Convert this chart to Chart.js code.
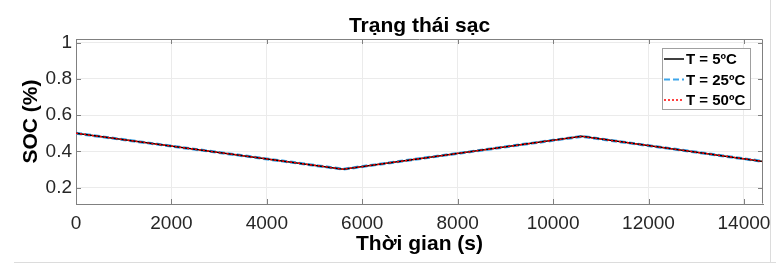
<!DOCTYPE html>
<html>
<head>
<meta charset="utf-8">
<script src="https://cdn.jsdelivr.net/npm/chart.js@4.4.1/dist/chart.umd.min.js"></script>
<style>
  html, body { margin: 0; padding: 0; background: #fff; }
  #wrap { width: 776px; height: 263px; }
</style>
</head>
<body>
<div id="wrap"><canvas id="soc" width="776" height="263"></canvas></div>
<script>
// time (s) and SOC
const timeS = [0, 5600, 10600, 14400];
const soc5 = [0.5, 0.302, 0.483, 0.345];
const soc25 = [0.5, 0.302, 0.483, 0.345];
const soc50 = [0.5, 0.302, 0.483, 0.345];

const seriesNames = ["T = 5ºC", "T = 25ºC", "T = 50ºC"];
const xTicks = [0, 2000, 4000, 6000, 8000, 10000, 12000, 14000];
const yTicks = [0.2, 0.4, 0.6, 0.8, 1];
const chartTitle = "Trạng thái sạc";

const FONT = "'Liberation Sans', Arial, Helvetica, sans-serif";
Chart.defaults.font.family = FONT;

const toPts = (arr) => timeS.map((t, i) => ({ x: t, y: arr[i] }));

// matlab style box, inward ticks, title over the axes and the legend inside
const matlabBox = {
  id: "matlabBox",
  afterDraw(chart) {
    const ctx = chart.ctx;
    const a = chart.chartArea;
    const xs = chart.scales.x, ys = chart.scales.y;
    ctx.save();
    ctx.strokeStyle = "#808080";
    ctx.lineWidth = 1;
    ctx.beginPath();
    ctx.moveTo(a.left + 0.5, a.top + 0.5);
    ctx.lineTo(a.right - 0.5, a.top + 0.5);
    ctx.lineTo(a.right - 0.5, a.bottom - 0.5);
    ctx.stroke();
    // inward ticks
    ctx.beginPath();
    xTicks.forEach(v => {
      const px = Math.round(xs.getPixelForValue(v)) + 0.5;
      ctx.moveTo(px, a.bottom); ctx.lineTo(px, a.bottom - 5);
      ctx.moveTo(px, a.top); ctx.lineTo(px, a.top + 5);
    });
    yTicks.forEach(v => {
      const py = Math.round(ys.getPixelForValue(v)) + 0.5;
      ctx.moveTo(a.left, py); ctx.lineTo(a.left + 5, py);
      ctx.moveTo(a.right, py); ctx.lineTo(a.right - 5, py);
    });
    ctx.stroke();

    // title centred on the axes
    ctx.fillStyle = "#000";
    ctx.font = "bold 21px " + FONT;
    ctx.textAlign = "center";
    ctx.textBaseline = "alphabetic";
    ctx.fillText(chartTitle, (a.left + a.right) / 2, 32);

    // legend
    const lx = 662, ly = 48, lw = 88, lh = 61;
    ctx.fillStyle = "#fff";
    ctx.fillRect(lx, ly, lw, lh);
    ctx.strokeStyle = "#a0a0a0";
    ctx.lineWidth = 1;
    ctx.strokeRect(lx + 0.5, ly + 0.5, lw, lh);
    seriesNames.forEach((name, i) => {
      const ds = chart.data.datasets.find(d => d.label === name);
      const cy = ly + 11 + i * 20.5;
      ctx.strokeStyle = ds.borderColor;
      ctx.lineWidth = Math.min(ds.borderWidth, 2);
      ctx.setLineDash(ds.borderDash || []);
      ctx.beginPath();
      ctx.moveTo(lx + 2, cy);
      ctx.lineTo(lx + 22, cy);
      ctx.stroke();
      ctx.setLineDash([]);
      ctx.fillStyle = "#000";
      ctx.font = "bold 15px " + FONT;
      ctx.textAlign = "left";
      ctx.textBaseline = "middle";
      ctx.fillText(name, lx + 24, cy + 1);
    });

    // figure frame lines
    ctx.strokeStyle = "#dcdcdc";
    ctx.lineWidth = 1;
    ctx.beginPath();
    ctx.moveTo(770.5, 0); ctx.lineTo(770.5, 263);
    ctx.moveTo(14, 262.5); ctx.lineTo(776, 262.5);
    ctx.stroke();
    ctx.restore();
  }
};

new Chart(document.getElementById("soc"), {
  type: "line",
  plugins: [matlabBox],
  data: {
    datasets: [
      {
        label: seriesNames[1],
        data: toPts(soc25),
        borderColor: "#3ea6ea",
        borderWidth: 3,
        borderDash: [6, 3],
        pointRadius: 0,
        order: 3,
      },
      {
        label: seriesNames[0],
        data: toPts(soc5),
        borderColor: "#000000",
        borderWidth: 1.5,
        pointRadius: 0,
        order: 2,
      },
      {
        label: seriesNames[2],
        data: toPts(soc50),
        borderColor: "#ff0000",
        borderWidth: 1.5,
        borderDash: [2, 2],
        pointRadius: 0,
        order: 1,
      },
    ],
  },
  options: {
    responsive: false,
    animation: false,
    devicePixelRatio: 1,
    layout: { padding: { left: 0, right: 13, top: 39, bottom: 0 } },
    plugins: {
      legend: { display: false },
      tooltip: { enabled: false },
      title: { display: false },
    },
    scales: {
      x: {
        type: "linear",
        min: 0,
        max: 14400,
        afterBuildTicks: (s) => { s.ticks = xTicks.map(v => ({ value: v })); },
        afterFit: (s) => { s.height = 59; s.paddingRight = 0; s.paddingLeft = 0; },
        grid: { color: "#ebebeb", drawTicks: false },
        border: { color: "#808080" },
        ticks: {
          color: "#262626",
          font: { size: 19 },
          padding: 8,
          maxRotation: 0,
          autoSkip: false,
          callback: (v) => String(v),
        },
        title: {
          display: true,
          text: "Thời gian (s)",
          color: "#000",
          font: { size: 21, weight: "bold" },
          padding: { top: 0, bottom: 6 },
        },
      },
      y: {
        min: 0.11,
        max: 1.02,
        afterBuildTicks: (s) => { s.ticks = yTicks.map(v => ({ value: v })); },
        afterFit: (s) => { s.width = 76; s.paddingTop = 0; s.paddingBottom = 0; },
        grid: { color: "#ebebeb", drawTicks: false },
        border: { color: "#808080" },
        ticks: {
          color: "#262626",
          font: { size: 19 },
          padding: 4,
          callback: (v) => String(+Number(v).toFixed(1)),
        },
        title: {
          display: true,
          text: "SOC (%)",
          color: "#000",
          font: { size: 21, weight: "bold" },
          padding: { top: 19, bottom: 0 },
        },
      },
    },
  },
});
</script>
</body>
</html>
